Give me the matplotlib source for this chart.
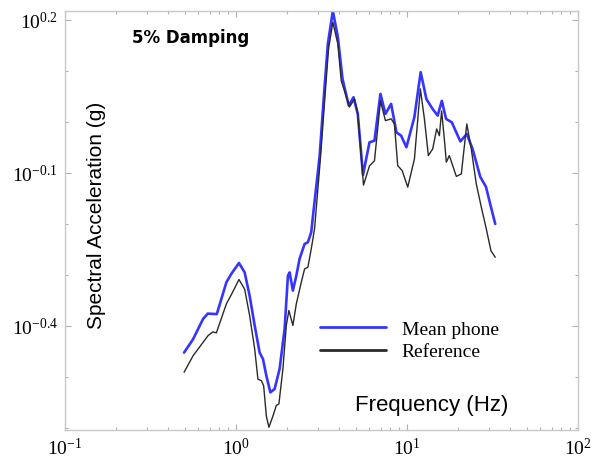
import matplotlib
matplotlib.use("Agg")
import matplotlib.pyplot as plt
from matplotlib.ticker import FixedLocator, FuncFormatter, NullFormatter, LogLocator
import numpy as np

plt.rcParams['font.family'] = ['Liberation Serif', 'DejaVu Serif']
plt.rcParams['mathtext.fontset'] = 'custom'
plt.rcParams['mathtext.rm'] = 'Liberation Serif'
plt.rcParams['mathtext.it'] = 'Liberation Serif:italic'
plt.rcParams['mathtext.bf'] = 'Liberation Serif:bold'
plt.rcParams['axes.unicode_minus'] = False

# Mean phone spectrum (frequency in Hz, spectral acceleration in g)
freq_phone = [0.497, 0.561, 0.642, 0.684, 0.772, 0.879, 0.940, 1.041, 1.124, 1.202,
              1.286, 1.375, 1.438, 1.505, 1.588, 1.682, 1.799, 1.925, 2.012, 2.059,
              2.151, 2.253, 2.354, 2.518, 2.633, 2.755, 2.815, 3.081,
              3.295, 3.445, 3.684, 3.940, 4.197, 4.567, 4.866, 5.155, 5.529, 6.034,
              6.453, 6.995, 7.479, 8.076, 8.674, 9.239, 9.92, 11.05, 12.02, 12.98,
              14.13, 15.11, 15.98, 16.92, 18.29, 20.50, 22.37, 24.18, 26.83, 28.96,
              30.97, 32.81]
sa_phone = [0.353, 0.375, 0.411, 0.421, 0.420, 0.485, 0.504, 0.529, 0.507, 0.456,
            0.399, 0.353, 0.343, 0.318, 0.295, 0.2995, 0.328, 0.393, 0.4995, 0.507,
            0.467, 0.4995, 0.539, 0.5765, 0.581, 0.608, 0.651, 0.854,
            1.171, 1.422, 1.651, 1.468, 1.214, 1.076, 1.118, 1.037, 0.787, 0.912,
            0.919, 1.135, 1.037, 1.085, 0.954, 0.940, 0.892, 1.023, 1.252, 1.109,
            1.060, 1.029, 1.100, 1.014, 0.998, 0.916, 0.947, 0.885, 0.780, 0.746,
            0.681, 0.631]

# Reference spectrum
freq_ref = [0.497, 0.561, 0.686, 0.731, 0.768, 0.879, 0.944, 1.041, 1.124, 1.202,
            1.286, 1.344, 1.407, 1.451, 1.505, 1.558, 1.644, 1.721, 1.782, 1.881,
            1.969, 2.039, 2.151, 2.253, 2.409, 2.518, 2.633, 2.755, 2.88, 3.122,
            3.339, 3.477, 3.684, 3.940, 4.124, 4.610, 4.932,
            5.155, 5.566, 6.034, 6.453, 6.995, 7.479, 8.076, 8.44, 8.826, 9.363,
            10.10, 11.05, 11.97, 12.64, 13.33, 14.13, 14.91, 15.46, 15.94, 16.53,
            16.98, 17.68, 19.43, 20.78, 22.37, 23.76, 25.42, 27.19, 29.08, 30.97,
            32.81]
sa_ref = [0.323, 0.348, 0.381, 0.3875, 0.386, 0.440, 0.460, 0.491, 0.470, 0.417,
          0.359, 0.313, 0.311, 0.304, 0.265, 0.252, 0.265, 0.278, 0.280, 0.328,
          0.399, 0.427, 0.399, 0.440, 0.485, 0.515, 0.519, 0.564, 0.617, 0.854,
          1.161, 1.390, 1.569, 1.422, 1.205, 1.070, 1.109,
          1.037, 0.752, 0.820, 0.839, 1.100, 1.006, 1.014, 0.991, 0.821, 0.803,
          0.745, 0.846, 1.161, 1.014, 0.859, 0.885, 0.969, 0.940, 1.051, 0.926,
          0.834, 0.859, 0.782, 0.791, 0.991, 0.885, 0.756, 0.681, 0.617, 0.559,
          0.543]

series_labels = ["Mean phone", "Reference"]
ytick_exps = [0.2, -0.1, -0.4]
yminor_exps = [-0.6, -0.5, -0.3, -0.2, 0.0, 0.1]

fig = plt.figure(figsize=(6.05, 4.6), dpi=100)
ax = fig.add_axes([0.1074, 0.063, 0.848, 0.911])

ax.plot(freq_phone, sa_phone, color='#3535ff', lw=1.9, label=series_labels[0], zorder=2,
        solid_joinstyle='round', solid_capstyle='round')
ax.plot(freq_ref, sa_ref, color='#2a2a2a', lw=1.0, label=series_labels[1], zorder=3,
        solid_joinstyle='round', solid_capstyle='round')

ax.set_xscale('log')
ax.set_yscale('log')
ax.set_xlim(0.1, 100)
ax.set_ylim(10 ** -0.604, 10 ** 0.2176)

ax.xaxis.set_major_locator(LogLocator(base=10, numticks=10))
ax.xaxis.set_minor_locator(LogLocator(base=10, subs=np.arange(2, 10), numticks=20))
ax.xaxis.set_major_formatter(FuncFormatter(lambda v, p: r'$\mathregular{10^{%d}}$' % round(np.log10(v))))
ax.xaxis.set_minor_formatter(NullFormatter())

ax.yaxis.set_major_locator(FixedLocator([10 ** e for e in ytick_exps]))
ax.yaxis.set_minor_locator(FixedLocator([10 ** e for e in yminor_exps]))
ax.yaxis.set_major_formatter(FuncFormatter(lambda v, p: r'$\mathregular{10^{%g}}$' % round(np.log10(v), 1)))
ax.yaxis.set_minor_formatter(NullFormatter())

for s in ax.spines.values():
    s.set_color('#c8c8c8')
    s.set_linewidth(1.0)

ax.tick_params(which='both', direction='in', top=True, right=True, color='#b0b0b0', width=0.8)
ax.tick_params(which='major', length=4, labelsize=14, pad=5)
ax.tick_params(which='minor', length=2.5)

ax.text(0.244, 0.938, '5% Damping', transform=ax.transAxes, ha='center', va='center',
        fontsize=12, fontweight='bold', family='DejaVu Sans')
ax.text(0.062, 0.515, 'Spectral Acceleration (g)', transform=ax.transAxes, ha='center', va='center',
        rotation=90, fontsize=15, family='Liberation Sans')
ax.text(0.715, 0.062, 'Frequency (Hz)', transform=ax.transAxes, ha='center', va='center',
        fontsize=16, family='Liberation Sans')

leg = ax.legend(loc='upper left', bbox_to_anchor=(0.497, 0.262), frameon=False,
                prop={'family': 'Liberation Serif', 'size': 14}, handlelength=3.4,
                handletextpad=0.8, labelspacing=0.25, borderpad=0, borderaxespad=0)
for line in leg.get_lines():
    line.set_linewidth(2.0)

fig.savefig('out.png', dpi=100)
